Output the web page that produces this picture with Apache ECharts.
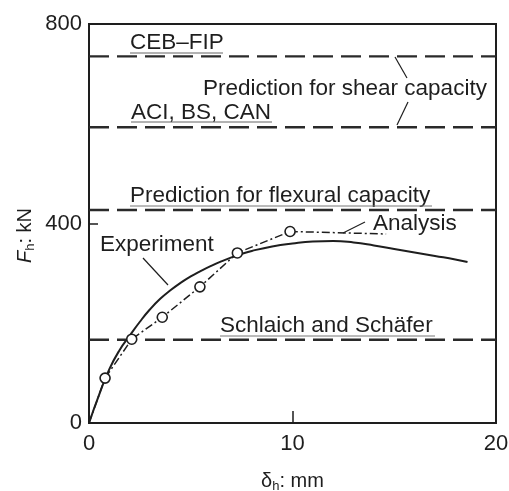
<!DOCTYPE html>
<html>
<head>
<meta charset="utf-8">
<script src="https://cdn.jsdelivr.net/npm/echarts@6/dist/echarts.min.js"></script>
<style>html,body{margin:0;padding:0;background:#fff;}#c{width:509px;height:491px;}</style>
</head>
<body>
<div id="c"></div>
<script>
// ---- data (deflection mm, force kN) ----
var xTicks = [0, 10, 20];
var yTicks = [0, 400, 800];
var expDelta = [0, 0.5, 1.0, 1.5, 2.0, 2.5, 3.0, 3.5, 4.0, 4.5, 5.0, 5.5, 6.0, 6.5, 7.0, 7.5, 8.0, 9.0, 10, 11, 12, 13, 14, 15, 16, 17, 18, 18.6];
var expForce = [0, 57, 108, 146, 175, 203, 228, 249, 266, 281, 294, 305, 315, 324, 332, 339, 345, 354, 360, 364, 365, 362, 356, 349, 342, 335, 328, 323];
var anaDelta = [0, 0.79, 2.1, 3.6, 5.45, 7.29, 9.88, 14.6];
var anaForce = [0, 90, 168, 212, 273, 341, 384, 379];
var anaMarked = [false, true, true, true, true, true, true, false];
var limitNames = ['CEB–FIP', 'ACI, BS, CAN', 'Prediction for flexural capacity', 'Schlaich and Schäfer'];
var limitForce = [735, 593, 427, 167];

var ink = '#1e1e1e';
var FONT = '"Liberation Sans", Arial, Helvetica, sans-serif';

function pairs(xs, ys) { return xs.map(function (x, i) { return [x, ys[i]]; }); }

var chart = echarts.init(document.getElementById('c'), null, {renderer: 'canvas'});

var series = [];
limitForce.forEach(function (v, i) {
  series.push({
    name: limitNames[i], type: 'line', data: [[xTicks[0], v], [xTicks[xTicks.length - 1], v]],
    symbol: 'none', silent: true, z: 1,
    lineStyle: {color: '#2a2a2a', width: 2.4, type: [20, 8]}
  });
});
series.push({
  name: 'Experiment', type: 'line', data: pairs(expDelta, expForce), smooth: 0.5,
  symbol: 'none', z: 3, lineStyle: {color: ink, width: 2}
});
series.push({
  name: 'Analysis', type: 'line',
  data: anaDelta.map(function (x, i) {
    return {value: [x, anaForce[i]], symbol: anaMarked[i] ? 'circle' : 'none'};
  }),
  symbolSize: 10, z: 4,
  itemStyle: {color: '#fff', borderColor: ink, borderWidth: 1.6},
  lineStyle: {color: ink, width: 1.5, type: [8, 3, 2, 3]}
});

function txt(x, y, s) {
  return {type: 'text', x: x, y: y, z: 10, style: {text: s, font: '22.5px ' + FONT, fill: ink, textAlign: 'left', textVerticalAlign: 'middle'}};
}
function seg(x1, y1, x2, y2, w, c) {
  return {type: 'line', z: 10, shape: {x1: x1, y1: y1, x2: x2, y2: y2}, style: {stroke: c || ink, lineWidth: w || 1.2}};
}

var option = {
  backgroundColor: '#fff',
  animation: false,
  grid: {left: 89, right: 13, top: 24, bottom: 68, containLabel: false, outerBoundsMode: 'none',
         show: true, borderColor: ink, borderWidth: 2, backgroundColor: 'transparent'},
  xAxis: {
    type: 'value', min: xTicks[0], max: xTicks[xTicks.length - 1], interval: 10,
    axisLine: {show: true, onZero: false, lineStyle: {color: ink, width: 2}},
    axisTick: {show: true, inside: true, length: 12, lineStyle: {color: ink, width: 1.5}},
    axisLabel: {color: ink, fontSize: 22, fontFamily: FONT, margin: 10},
    splitLine: {show: false},
    name: '{d|δ}{s|h}{n|: mm}', nameLocation: 'middle', nameGap: 46, nameMoveOverlap: false,
    nameTextStyle: {color: ink, fontFamily: FONT, fontSize: 20,
      rich: {d: {fontSize: 20, fontFamily: FONT, color: ink, lineHeight: 24},
             s: {fontSize: 13, fontFamily: FONT, color: ink, verticalAlign: 'bottom', lineHeight: 14},
             n: {fontSize: 20, fontFamily: FONT, color: ink, lineHeight: 24}}}
  },
  yAxis: {
    type: 'value', min: yTicks[0], max: yTicks[yTicks.length - 1], interval: 400,
    axisLine: {show: true, onZero: false, lineStyle: {color: ink, width: 2}},
    axisTick: {show: true, inside: true, length: 9, lineStyle: {color: ink, width: 1.5}},
    axisLabel: {color: ink, fontSize: 22, fontFamily: FONT, margin: 7},
    splitLine: {show: false},
    name: '{f|F}{s|h}{n|: kN}', nameLocation: 'middle', nameGap: 52, nameRotate: 90, nameMoveOverlap: false,
    nameTextStyle: {color: ink, fontFamily: FONT, fontSize: 20, padding: [0, 24, 0, 0],
      rich: {f: {fontSize: 20, fontFamily: FONT, fontStyle: 'italic', color: ink, lineHeight: 24},
             s: {fontSize: 13, fontFamily: FONT, color: ink, verticalAlign: 'bottom', lineHeight: 14},
             n: {fontSize: 20, fontFamily: FONT, color: ink, lineHeight: 24}}}
  },
  series: series,
  graphic: [
    txt(130, 43, 'CEB–FIP'),
    txt(203, 89, 'Prediction for shear capacity'),
    txt(131, 113, 'ACI, BS, CAN'),
    txt(130, 196, 'Prediction for flexural capacity'),
    txt(373, 224, 'Analysis'),
    txt(100, 245, 'Experiment'),
    txt(220, 326, 'Schlaich and Schäfer'),
    seg(130, 53, 223, 53, 1, '#666'),
    seg(131, 122, 272, 122, 1, '#666'),
    seg(130, 206, 432, 206, 1, '#777'),
    seg(220, 336, 435, 336, 1, '#777'),
    seg(395, 57, 407, 78),
    seg(408, 102, 397, 125),
    seg(343, 233, 365, 222),
    seg(143, 258, 168, 285)
  ]
};
chart.setOption(option);
</script>
</body>
</html>
